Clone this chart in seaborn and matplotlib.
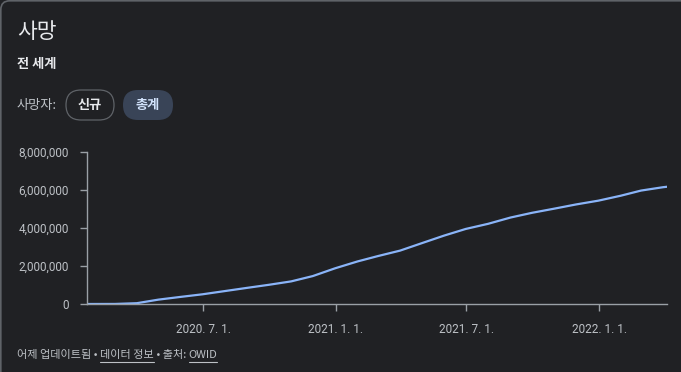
"""World COVID-19 deaths (cumulative) - dark card chart"""

import pandas as pd
import matplotlib
matplotlib.use('Agg')
import matplotlib.pyplot as plt
from matplotlib.patches import FancyBboxPatch
from matplotlib.ticker import FuncFormatter
import seaborn as sns

# Data (cumulative deaths)
dates = ['2020-01-22', '2020-03-01', '2020-03-31', '2020-04-30', '2020-05-31', '2020-06-30',
         '2020-07-31', '2020-08-31', '2020-09-30', '2020-10-31', '2020-11-30', '2020-12-31',
         '2021-01-31', '2021-02-28', '2021-03-31', '2021-04-30', '2021-05-31', '2021-06-30',
         '2021-07-31', '2021-08-31', '2021-09-30', '2021-10-31', '2021-11-30', '2021-12-31',
         '2022-01-31', '2022-02-28', '2022-03-31', '2022-04-05']
deaths = [0, 3000, 42000, 230000, 375000, 510000,
          680000, 850000, 1010000, 1190000, 1470000, 1880000,
          2240000, 2520000, 2810000, 3200000, 3600000, 3950000,
          4220000, 4550000, 4800000, 5020000, 5240000, 5440000,
          5700000, 5970000, 6150000, 6170000]
x_ticks = ['2020-07-01', '2021-01-01', '2021-07-01', '2022-01-01']
x_tick_labels = ['2020. 7. 1.', '2021. 1. 1.', '2021. 7. 1.', '2022. 1. 1.']
y_ticks = [0, 2000000, 4000000, 6000000, 8000000]

BG = '#202124'
TXT = '#e8eaed'
SUB = '#bdc1c6'
LINE = '#8ab4f8'

sns.set_style('dark')
plt.rcParams['font.family'] = ['Noto Sans CJK KR', 'DejaVu Sans']

W, H = 681, 372


def main():
    df = pd.DataFrame({'date': pd.to_datetime(dates), 'deaths': deaths})

    fig = plt.figure(figsize=(W / 100, H / 100), dpi=100, facecolor=BG)

    # background layer in pixel coordinates
    bg = fig.add_axes([0, 0, 1, 1], zorder=0)
    bg.set_xlim(0, W)
    bg.set_ylim(H, 0)
    bg.axis('off')
    bg.add_patch(FancyBboxPatch((0.8, 0.8), W + 20, H + 20,
                                boxstyle='round,pad=0,rounding_size=9',
                                facecolor=BG, edgecolor='#5f6368', linewidth=1.2))

    bg.text(17, 32, '사망', color=TXT, fontsize=15.5, fontweight='medium', va='center', ha='left')
    bg.text(17, 64, '전 세계', color=TXT, fontsize=9.5, fontweight='bold', va='center', ha='left')
    bg.text(17, 105, '사망자:', color=SUB, fontsize=9.5, fontweight='medium', va='center', ha='left')

    bg.add_patch(FancyBboxPatch((66, 90), 48, 30, boxstyle='round,pad=0,rounding_size=15',
                                facecolor=BG, edgecolor='#5f6368', linewidth=0.9))
    bg.text(90, 105, '신규', color=TXT, fontsize=9.5, fontweight='bold', va='center', ha='center')
    bg.add_patch(FancyBboxPatch((123, 90), 50, 30, boxstyle='round,pad=0,rounding_size=15',
                                facecolor='#394457', edgecolor='none'))
    bg.text(148, 105, '총계', color='#d2e3fc', fontsize=9.5, fontweight='bold', va='center', ha='center')

    # footer with underlined links
    parts = [('어제 업데이트됨 • ', False), ('데이터 정보', True), (' • 출처: ', False), ('OWID', True)]
    fig.canvas.draw()
    renderer = fig.canvas.get_renderer()
    x = 17
    inv = bg.transData.inverted()
    for text, underline in parts:
        t = bg.text(x, 355, text, color=SUB, fontsize=8, va='center', ha='left')
        bb = t.get_window_extent(renderer)
        (x0, y0), (x1, y1) = inv.transform([[bb.x0, bb.y0], [bb.x1, bb.y1]])
        if underline:
            bg.plot([x0, x1], [362, 362], color=SUB, linewidth=0.8)
        x = x1

    # chart
    ax = fig.add_axes([87 / W, (H - 304) / H, (667 - 87) / W, 152 / H], zorder=1)
    ax.set_facecolor('none')
    sns.lineplot(data=df, x='date', y='deaths', ax=ax, color=LINE, linewidth=1.6)

    ax.set_xlim(pd.Timestamp('2020-01-22'), pd.Timestamp('2022-04-05'))
    ax.set_ylim(0, 8000000)
    ax.set_xticks(pd.to_datetime(x_ticks))
    ax.set_xticklabels(x_tick_labels)
    ax.set_yticks(y_ticks)
    ax.yaxis.set_major_formatter(FuncFormatter(lambda v, p: f'{int(v):,}'))
    ax.set_xlabel('')
    ax.set_ylabel('')
    ax.grid(False)

    for s in ['top', 'right']:
        ax.spines[s].set_visible(False)
    for s in ['left', 'bottom']:
        ax.spines[s].set_visible(True)
        ax.spines[s].set_color('#9aa0a6')
        ax.spines[s].set_linewidth(1)
    ax.tick_params(axis='both', colors='#9aa0a6', labelcolor=SUB, labelsize=8.5,
                   length=5, width=1, bottom=True, left=True)
    ax.tick_params(axis='y', pad=8)
    ax.tick_params(axis='x', pad=9)
    for lab in ax.get_xticklabels() + ax.get_yticklabels():
        lab.set_family(['Roboto', 'DejaVu Sans'])

    fig.savefig('out.png', dpi=100, facecolor=BG)


if __name__ == "__main__":
    main()
